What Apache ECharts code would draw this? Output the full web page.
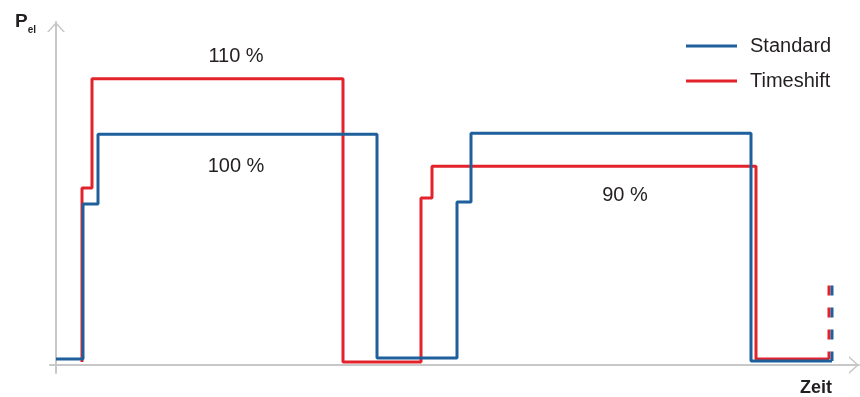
<!DOCTYPE html>
<html>
<head>
<meta charset="utf-8">
<script src="https://cdn.jsdelivr.net/npm/echarts@6/dist/echarts.min.js"></script>
<style>
  html, body { margin: 0; padding: 0; background: #fff; }
  #chart { width: 860px; height: 397px; }
</style>
</head>
<body>
<div id="chart"></div>
<script>
// Standard profile: step starts (time) and power level held from there
const stdTime = [0, 27, 42, 321, 401, 415, 695, 776];
const stdLevel = [6, 162, 232, 7, 164, 233, 4, 4];
// Timeshift profile
const tsTime = [26, 26, 36, 287, 365, 376, 700, 773];
const tsLevel = [3, 178, 288, 3, 168, 200, 6, 6];
// dashed continuation at the right end
const tailTop = 80;
// percentage notes
const noteText = ['110 %', '100 %', '90 %'];
const noteTime = [180, 180, 569];
const noteLevel = [310, 200, 171];

const BLUE = '#1f5f9b';
const RED = '#e3232c';
const INK = '#231f20';
const AXIS = '#c8c8c8';
const FONT = 'Liberation Sans, Arial, sans-serif';

const zip = (xs, ys) => xs.map((x, i) => [x, ys[i]]);
// thin open chevron, tip at top
const chevron = 'path://M0,10 L9,0 L18,10 L16,10 L9,2.2 L2,10 Z';

const chart = echarts.init(document.getElementById('chart'));

chart.setOption({
  animation: false,
  grid: { left: 50, right: 1, top: 22, bottom: 22 },
  legend: {
    data: ['Standard', 'Timeshift'],
    orient: 'vertical',
    left: 686,
    top: 36,
    padding: 0,
    itemGap: 15,
    icon: 'rect',
    itemWidth: 51,
    itemHeight: 3,
    textStyle: { fontSize: 20, color: INK, fontFamily: FONT, lineHeight: 20, padding: [0, 0, 0, 8] }
  },
  xAxis: {
    type: 'value',
    min: -6,
    max: 803,
    name: 'Zeit',
    nameLocation: 'end',
    nameGap: -43,
    nameTextStyle: {
      fontSize: 18, fontWeight: 'bold', color: INK, fontFamily: FONT,
      align: 'center', verticalAlign: 'top', lineHeight: 18, padding: [14, 0, 0, 0]
    },
    axisLine: {
      onZero: true,
      lineStyle: { color: AXIS, width: 2 },
      symbol: ['none', chevron],
      symbolSize: [18, 10],
      symbolOffset: [0, -5]
    },
    axisTick: { show: false },
    axisLabel: { show: false },
    splitLine: { show: false }
  },
  yAxis: {
    type: 'value',
    min: -8,
    max: 345,
    name: '{p|P}{s|el}',
    nameLocation: 'end',
    nameGap: 10,
    nameTextStyle: {
      align: 'right', verticalAlign: 'top', padding: [0, 20, 0, 0],
      rich: {
        p: { fontSize: 19, fontWeight: 'bold', color: INK, fontFamily: FONT, lineHeight: 20, verticalAlign: 'top' },
        s: { fontSize: 10, fontWeight: 'bold', color: INK, fontFamily: FONT, lineHeight: 37, verticalAlign: 'middle' }
      }
    },
    axisLine: {
      onZero: true,
      lineStyle: { color: AXIS, width: 2 },
      symbol: ['none', chevron],
      symbolSize: [18, 10],
      symbolOffset: [0, -5]
    },
    axisTick: { show: false },
    axisLabel: { show: false },
    splitLine: { show: false }
  },
  series: [
    {
      name: 'Timeshift',
      type: 'line',
      step: 'end',
      symbol: 'none',
      color: RED,
      lineStyle: { color: RED, width: 3 },
      data: zip(tsTime, tsLevel)
    },
    {
      name: 'Timeshift',
      type: 'line',
      symbol: 'none',
      color: RED,
      lineStyle: { color: RED, width: 3, type: [10, 12] },
      data: [[tsTime[tsTime.length - 1], tailTop], [tsTime[tsTime.length - 1], tsLevel[tsLevel.length - 1]]]
    },
    {
      name: 'Standard',
      type: 'line',
      step: 'end',
      symbol: 'none',
      color: BLUE,
      lineStyle: { color: BLUE, width: 3 },
      data: zip(stdTime, stdLevel)
    },
    {
      name: 'Standard',
      type: 'line',
      symbol: 'none',
      color: BLUE,
      lineStyle: { color: BLUE, width: 3, type: [10, 12] },
      data: [[stdTime[stdTime.length - 1], tailTop], [stdTime[stdTime.length - 1], stdLevel[stdLevel.length - 1]]]
    },
    {
      name: 'notes',
      type: 'scatter',
      silent: true,
      symbolSize: 1,
      itemStyle: { color: 'rgba(0,0,0,0)', opacity: 1 },
      label: {
        show: true,
        position: 'inside',
        formatter: '{b}',
        fontSize: 20,
        color: INK,
        opacity: 1,
        fontFamily: FONT
      },
      data: noteText.map((t, i) => ({ name: t, value: [noteTime[i], noteLevel[i]] }))
    }
  ]
});
</script>
</body>
</html>
